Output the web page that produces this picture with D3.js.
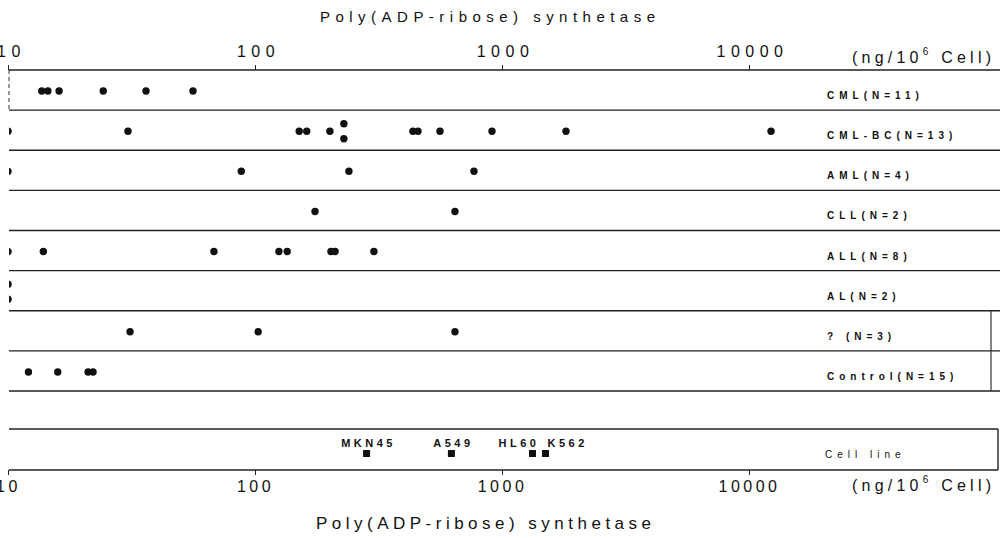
<!DOCTYPE html>
<html>
<head>
<meta charset="utf-8">
<script src="https://cdn.jsdelivr.net/npm/d3@7"></script>
<style>
    body { margin: 0; background: #fff; }
    text { font-family: "Liberation Sans", Arial, sans-serif; fill: #111; }
</style>
</head>
<body>
<svg width="1000" height="538"></svg>
<script>
// groups (rows of the chart)
const rowLabels = ['CML(N=11)', 'CML-BC(N=13)', 'AML(N=4)', 'CLL(N=2)', 'ALL(N=8)', 'AL(N=2)', '? (N=3)', 'Control(N=15)'];

// ng / 10^6 cells
const cml = [13.7, 14.5, 16.1, 24.3, 36.2, 56.1];
const cmlBc = [10, 30.6, 151, 162, 201, 229, 229, 436, 457, 561, 911, 1816, 12280];
const aml = [10, 88, 240, 770];
const cll = [175, 645];
const all = [10, 13.9, 68.2, 125, 135, 203, 211, 303];
const al = [10, 10];
const unknown = [31.2, 103, 645];
const control = [12.1, 15.9, 21.1, 22.1];

const cellLines = ['MKN45', 'A549', 'HL60', 'K562'];
const cellValues = [283, 624, 1329, 1500];

const tickValues = [10, 100, 1000, 10000];
const titleText = 'Poly(ADP-ribose) synthetase';

const groups = [cml, cmlBc, aml, cll, all, al, unknown, control];

const svg = d3.select('svg');

const x = d3.scaleLog().domain([10, 10000]).range([8, 749]);
const y = d3.scaleBand().domain(rowLabels).range([70, 391]);
const y2 = d3.scaleBand().domain(['Cell line']).range([429, 470]);

// points, same values are stacked vertically
const points = [];
groups.forEach((vals, gi) => {
    vals.forEach((v, i) => {
        const same = vals.filter(d => d === v);
        const k = vals.slice(0, i).filter(d => d === v).length;
        points.push({ row: rowLabels[gi], value: v, off: (k - (same.length - 1) / 2) * 15 });
    });
});

svg.append('clipPath').attr('id', 'clip')
    .append('rect').attr('x', 9).attr('y', 0).attr('width', 991).attr('height', 538);

// row lines
const lineYs = rowLabels.map(d => y(d)).concat([y.range()[1]]);
svg.append('g').selectAll('line')
    .data(lineYs)
    .enter()
    .append('line')
    .attr('x1', 9).attr('x2', 1000)
    .attr('y1', d => d).attr('y2', d => d)
    .attr('stroke', '#222').attr('stroke-width', 1.4);

// dashed left edge of first row
svg.append('line')
    .attr('x1', 9).attr('x2', 9)
    .attr('y1', y(rowLabels[0])).attr('y2', y(rowLabels[1]))
    .attr('stroke', '#333').attr('stroke-dasharray', '4,3');

// right edge of the last rows
svg.append('line')
    .attr('x1', 991).attr('x2', 991)
    .attr('y1', y(rowLabels[6])).attr('y2', y.range()[1])
    .attr('stroke', '#333').attr('stroke-width', 1.2);

// top axis
const topAxis = svg.append('g')
    .attr('transform', 'translate(0,' + y.range()[0] + ')')
    .call(d3.axisTop(x).tickValues(tickValues).tickFormat(d3.format('d')).tickSize(5).tickPadding(8));
topAxis.select('.domain').remove();
topAxis.selectAll('line').attr('stroke', '#222');
topAxis.selectAll('text')
    .attr('font-size', 16).attr('letter-spacing', 5.5).attr('dx', 3)
    .attr('fill', '#111').attr('font-family', '"Liberation Sans", Arial, sans-serif');

// dots
svg.append('g').attr('clip-path', 'url(#clip)')
    .selectAll('circle')
    .data(points)
    .enter()
    .append('circle')
    .attr('cx', d => x(d.value))
    .attr('cy', d => y(d.row) + y.bandwidth() / 2 + 1 + d.off)
    .attr('r', 3.7)
    .attr('fill', '#111');

// row labels
svg.append('g').selectAll('text')
    .data(rowLabels)
    .enter()
    .append('text')
    .attr('x', 827)
    .attr('y', d => y(d) + y.bandwidth() / 2 + 9)
    .attr('font-size', 10).attr('font-weight', 'bold')
    .attr('letter-spacing', 5)
    .text(d => d);

// cell line box
const cy0 = y2('Cell line'), cy1 = cy0 + y2.bandwidth();
svg.append('g').selectAll('line')
    .data([cy0, cy1])
    .enter()
    .append('line')
    .attr('x1', 9).attr('x2', 998)
    .attr('y1', d => d).attr('y2', d => d)
    .attr('stroke', '#222').attr('stroke-width', 1.4);
svg.append('line')
    .attr('x1', 998).attr('x2', 998).attr('y1', cy0).attr('y2', cy1)
    .attr('stroke', '#222').attr('stroke-width', 1.4);

svg.append('text')
    .attr('x', 825).attr('y', cy0 + y2.bandwidth() / 2 + 8)
    .attr('font-size', 10).attr('letter-spacing', 5)
    .text('Cell line');

svg.append('g').selectAll('rect')
    .data(cellValues)
    .enter()
    .append('rect')
    .attr('x', d => x(d) - 3.5)
    .attr('y', cy0 + 21)
    .attr('width', 7).attr('height', 7)
    .attr('fill', '#111');

const anchors = ['middle', 'middle', 'end', 'start'];
const shift = [2, 2, 7, 2];
svg.append('g').selectAll('text')
    .data(cellLines)
    .enter()
    .append('text')
    .attr('x', (d, i) => x(cellValues[i]) + shift[i])
    .attr('y', cy0 + 18)
    .attr('text-anchor', (d, i) => anchors[i])
    .attr('font-size', 11).attr('font-weight', 'bold')
    .attr('letter-spacing', 3.5)
    .text(d => d);

// bottom axis
const bottomAxis = svg.append('g')
    .attr('transform', 'translate(0,' + cy1 + ')')
    .call(d3.axisBottom(x).tickValues(tickValues).tickFormat(d3.format('d')).tickSize(5).tickPadding(6));
bottomAxis.select('.domain').remove();
bottomAxis.selectAll('line').attr('stroke', '#222');
bottomAxis.selectAll('text')
    .attr('font-size', 16).attr('letter-spacing', 3.5)
    .attr('fill', '#111').attr('font-family', '"Liberation Sans", Arial, sans-serif');

// units
function units(yPos) {
    const t = svg.append('text')
        .attr('x', 852).attr('y', yPos)
        .attr('font-size', 16)
        .attr('textLength', 139).attr('lengthAdjust', 'spacing');
    t.append('tspan').text('(ng/10');
    t.append('tspan').attr('dy', -8).attr('font-size', 10).text('6');
    t.append('tspan').attr('dy', 8).text(' Cell)');
}
units(63);
units(491);

// titles
svg.append('text')
    .attr('x', 320).attr('y', 22)
    .attr('font-size', 15)
    .attr('textLength', 335).attr('lengthAdjust', 'spacing')
    .text(titleText);
svg.append('text')
    .attr('x', 316).attr('y', 529)
    .attr('font-size', 17)
    .attr('textLength', 335).attr('lengthAdjust', 'spacing')
    .text(titleText);
</script>
</body>
</html>
